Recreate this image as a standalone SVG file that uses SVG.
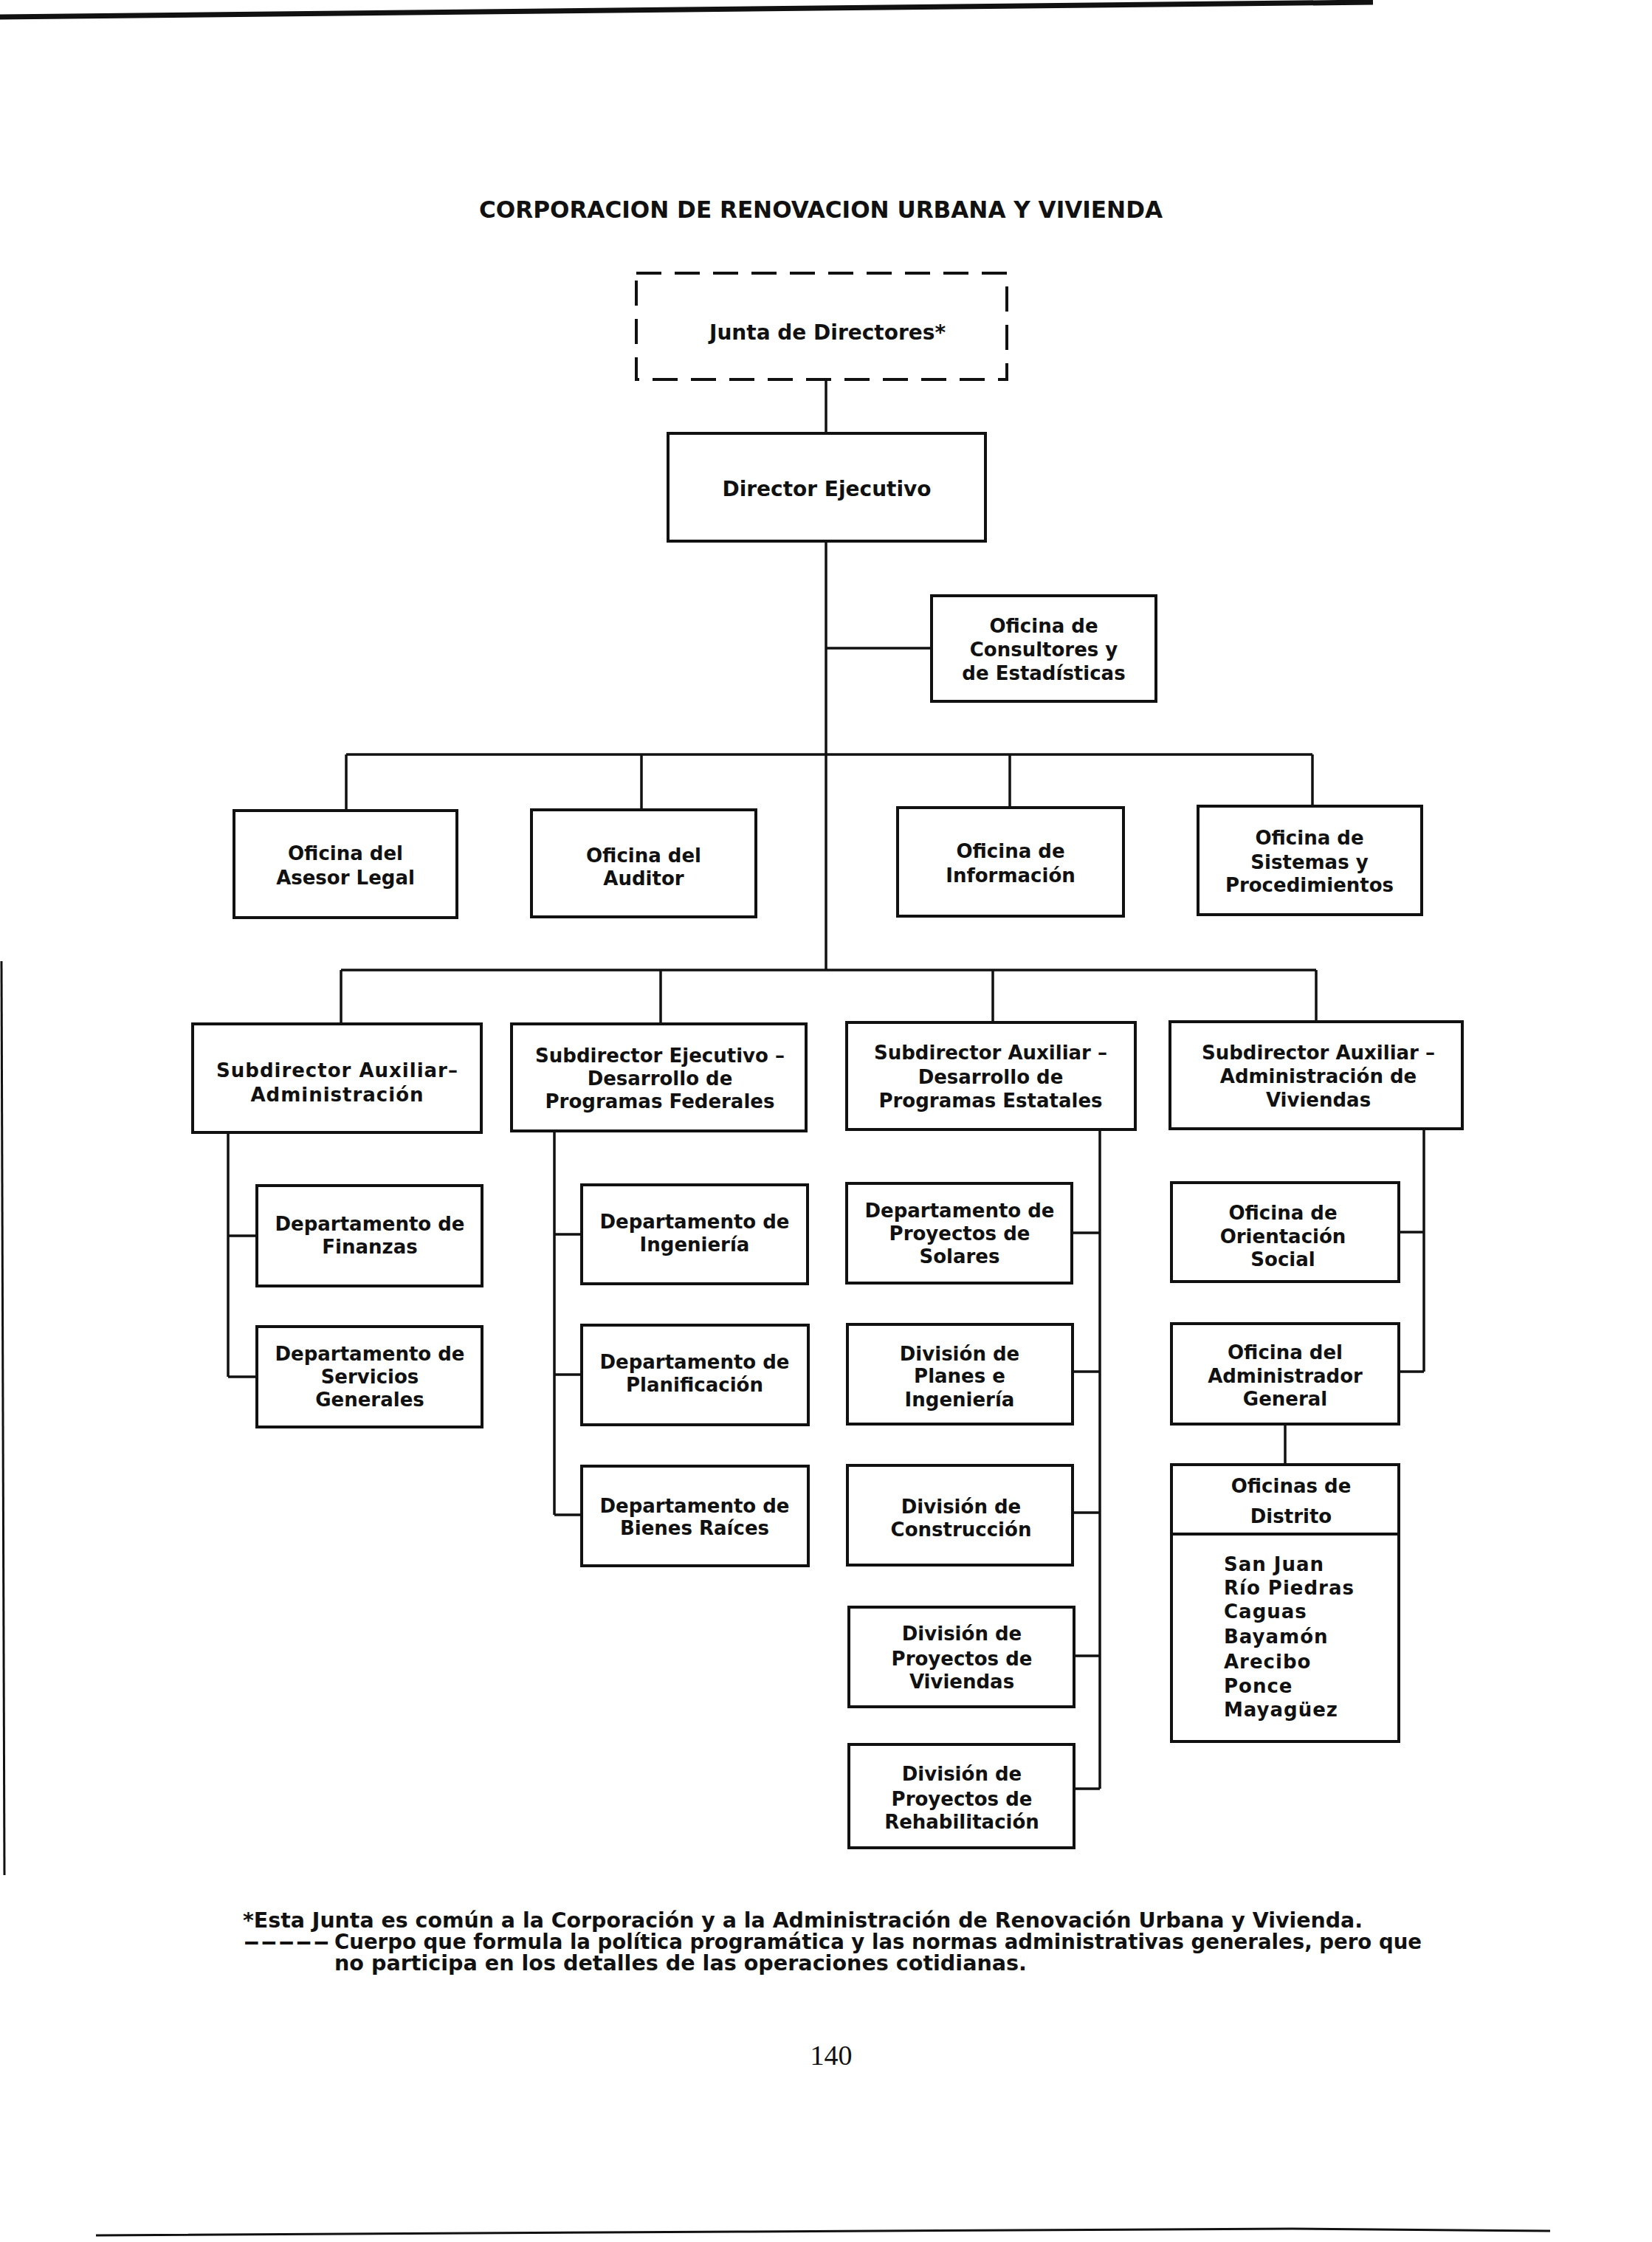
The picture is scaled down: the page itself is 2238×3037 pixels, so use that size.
<svg xmlns="http://www.w3.org/2000/svg" width="2238" height="3037" viewBox="0 0 2238 3037">
<style>
.bg{fill:#fff}
.box{fill:#fff;stroke:#111;stroke-width:4}
.dash{fill:#fff;stroke:#111;stroke-width:4;stroke-dasharray:34 18}
.ln{fill:none;stroke:#111;stroke-width:3.5}
.t{font-family:"DejaVu Sans","Liberation Sans",sans-serif;font-weight:bold;font-size:26px;fill:#111;text-anchor:middle}
.tl{font-family:"DejaVu Sans","Liberation Sans",sans-serif;font-weight:bold;font-size:26px;fill:#111;letter-spacing:1px}
.title{font-family:"DejaVu Sans","Liberation Sans",sans-serif;font-weight:bold;font-size:32px;fill:#111}
.foot{font-family:"DejaVu Sans","Liberation Sans",sans-serif;font-weight:bold;font-size:29px;fill:#111}
.pg{font-family:"Liberation Serif",serif;font-size:38px;fill:#111;text-anchor:middle}
.scan{fill:none;stroke:#111}
</style>
<rect class="bg" x="0" y="0" width="2238" height="3037"/>
<g id="page-edges">
<path class="scan" d="M0 23 L1860 3" stroke-width="7"/>
<path class="scan" d="M130 3028 L1000 3023 L1750 3019 L2100 3022" stroke-width="3"/>
<path class="scan" d="M2 1302 L6 2540" stroke-width="3"/>
</g>
<text class="title" x="649" y="295" textLength="926" lengthAdjust="spacingAndGlyphs">CORPORACION DE RENOVACION URBANA Y VIVIENDA</text>
<g id="connectors">
<path class="ln" d="M1119 514 V587"/>
<path class="ln" d="M1119 733 V1314"/>
<path class="ln" d="M1119 878 H1262"/>
<path class="ln" d="M469 1022 H1778"/>
<path class="ln" d="M469 1022 V1098 M869 1022 V1097 M1368 1022 V1094 M1778 1022 V1092"/>
<path class="ln" d="M462 1314 H1783"/>
<path class="ln" d="M462 1314 V1387 M895 1314 V1387 M1345 1314 V1385 M1783 1314 V1384"/>
<path class="ln" d="M309 1534 V1865 M309 1674 H348 M309 1865 H348"/>
<path class="ln" d="M751 1532 V2052 M751 1672 H788 M751 1862 H788 M751 2052 H788"/>
<path class="ln" d="M1490 1530 V2423 M1452 1670 H1490 M1453 1858 H1490 M1453 2049 H1490 M1455 2243 H1490 M1455 2423 H1490"/>
<path class="ln" d="M1929 1529 V1858 M1895 1669 H1929 M1895 1858 H1929"/>
<path class="ln" d="M1741 1929 V1984"/>
</g>
<g id="junta">
<rect class="dash" x="862" y="370" width="502" height="144"/>
<text class="t" x="1121" y="460" style="font-size:28px">Junta de Directores*</text>
</g>
<g id="director">
<rect class="box" x="905" y="587" width="430" height="146"/>
<text class="t" x="1120" y="672" style="font-size:28px">Director Ejecutivo</text>
</g>
<g id="consultores">
<rect class="box" x="1262" y="807" width="304" height="143"/>
<text class="t" x="1414" y="857">Oficina de</text>
<text class="t" x="1414" y="889">Consultores y</text>
<text class="t" x="1414" y="921">de Estadísticas</text>
</g>
<g id="asesor">
<rect class="box" x="317" y="1098" width="302" height="145"/>
<text class="t" x="468" y="1165">Oficina del</text>
<text class="t" x="468" y="1198">Asesor Legal</text>
</g>
<g id="auditor">
<rect class="box" x="720" y="1097" width="304" height="145"/>
<text class="t" x="872" y="1168">Oficina del</text>
<text class="t" x="872" y="1199">Auditor</text>
</g>
<g id="informacion">
<rect class="box" x="1216" y="1094" width="306" height="147"/>
<text class="t" x="1369" y="1162">Oficina de</text>
<text class="t" x="1369" y="1195">Información</text>
</g>
<g id="sistemas">
<rect class="box" x="1623" y="1092" width="303" height="147"/>
<text class="t" x="1774" y="1144">Oficina de</text>
<text class="t" x="1774" y="1177">Sistemas y</text>
<text class="t" x="1774" y="1208">Procedimientos</text>
</g>
<g id="sa-administracion">
<rect class="box" x="261" y="1387" width="391" height="147"/>
<text class="t" x="457" y="1459" style="letter-spacing:1px">Subdirector Auxiliar–</text>
<text class="t" x="457" y="1492" style="letter-spacing:1px">Administración</text>
</g>
<g id="se-federales">
<rect class="box" x="693" y="1387" width="399" height="145"/>
<text class="t" x="894" y="1439">Subdirector Ejecutivo –</text>
<text class="t" x="894" y="1470">Desarrollo de</text>
<text class="t" x="894" y="1501">Programas Federales</text>
</g>
<g id="sa-estatales">
<rect class="box" x="1147" y="1385" width="391" height="145"/>
<text class="t" x="1342" y="1435">Subdirector Auxiliar –</text>
<text class="t" x="1342" y="1468">Desarrollo de</text>
<text class="t" x="1342" y="1500">Programas Estatales</text>
</g>
<g id="sa-viviendas">
<rect class="box" x="1585" y="1384" width="396" height="145"/>
<text class="t" x="1786" y="1435">Subdirector Auxiliar –</text>
<text class="t" x="1786" y="1467">Administración de</text>
<text class="t" x="1786" y="1499">Viviendas</text>
</g>
<g id="finanzas">
<rect class="box" x="348" y="1606" width="305" height="136"/>
<text class="t" x="501" y="1667">Departamento de</text>
<text class="t" x="501" y="1698">Finanzas</text>
</g>
<g id="servicios">
<rect class="box" x="348" y="1797" width="305" height="136"/>
<text class="t" x="501" y="1843">Departamento de</text>
<text class="t" x="501" y="1874">Servicios</text>
<text class="t" x="501" y="1905">Generales</text>
</g>
<g id="ingenieria">
<rect class="box" x="788" y="1605" width="306" height="134"/>
<text class="t" x="941" y="1664">Departamento de</text>
<text class="t" x="941" y="1695">Ingeniería</text>
</g>
<g id="planificacion">
<rect class="box" x="788" y="1795" width="307" height="135"/>
<text class="t" x="941" y="1854">Departamento de</text>
<text class="t" x="941" y="1885">Planificación</text>
</g>
<g id="bienes-raices">
<rect class="box" x="788" y="1986" width="307" height="135"/>
<text class="t" x="941" y="2049">Departamento de</text>
<text class="t" x="941" y="2079">Bienes Raíces</text>
</g>
<g id="solares">
<rect class="box" x="1147" y="1603" width="305" height="135"/>
<text class="t" x="1300" y="1649">Departamento de</text>
<text class="t" x="1300" y="1680">Proyectos de</text>
<text class="t" x="1300" y="1711">Solares</text>
</g>
<g id="planes">
<rect class="box" x="1148" y="1794" width="305" height="135"/>
<text class="t" x="1300" y="1843">División de</text>
<text class="t" x="1300" y="1873">Planes e</text>
<text class="t" x="1300" y="1905">Ingeniería</text>
</g>
<g id="construccion">
<rect class="box" x="1148" y="1985" width="305" height="135"/>
<text class="t" x="1302" y="2050">División de</text>
<text class="t" x="1302" y="2081">Construcción</text>
</g>
<g id="viviendas">
<rect class="box" x="1150" y="2177" width="305" height="135"/>
<text class="t" x="1303" y="2222">División de</text>
<text class="t" x="1303" y="2256">Proyectos de</text>
<text class="t" x="1303" y="2287">Viviendas</text>
</g>
<g id="rehabilitacion">
<rect class="box" x="1150" y="2363" width="305" height="140"/>
<text class="t" x="1303" y="2412">División de</text>
<text class="t" x="1303" y="2446">Proyectos de</text>
<text class="t" x="1303" y="2477">Rehabilitación</text>
</g>
<g id="orientacion">
<rect class="box" x="1587" y="1602" width="308" height="134"/>
<text class="t" x="1738" y="1652">Oficina de</text>
<text class="t" x="1738" y="1684">Orientación</text>
<text class="t" x="1738" y="1715">Social</text>
</g>
<g id="administrador">
<rect class="box" x="1587" y="1793" width="308" height="136"/>
<text class="t" x="1741" y="1841">Oficina del</text>
<text class="t" x="1741" y="1873">Administrador</text>
<text class="t" x="1741" y="1904">General</text>
</g>
<g id="distrito">
<rect class="box" x="1587" y="1984" width="308" height="375"/>
<path class="ln" d="M1587 2078 H1895" style="stroke-width:4"/>
<text class="t" x="1749" y="2022">Oficinas de</text>
<text class="t" x="1749" y="2063">Distrito</text>
<text class="tl" x="1658" y="2128">San Juan</text>
<text class="tl" x="1658" y="2160">Río Piedras</text>
<text class="tl" x="1658" y="2192">Caguas</text>
<text class="tl" x="1658" y="2226">Bayamón</text>
<text class="tl" x="1658" y="2260">Arecibo</text>
<text class="tl" x="1658" y="2293">Ponce</text>
<text class="tl" x="1658" y="2325">Mayagüez</text>
</g>
<g id="footnote">
<text class="foot" x="329" y="2611" textLength="1517" lengthAdjust="spacingAndGlyphs">*Esta Junta es común a la Corporación y a la Administración de Renovación Urbana y Vivienda.</text>
<text class="foot" x="329" y="2640" textLength="118" lengthAdjust="spacingAndGlyphs">-----</text>
<text class="foot" x="453" y="2640" textLength="1473" lengthAdjust="spacingAndGlyphs">Cuerpo que formula la política programática y las normas administrativas generales, pero que</text>
<text class="foot" x="453" y="2669" textLength="938" lengthAdjust="spacingAndGlyphs">no participa en los detalles de las operaciones cotidianas.</text>
</g>
<text class="pg" x="1126" y="2797">140</text>
</svg>
